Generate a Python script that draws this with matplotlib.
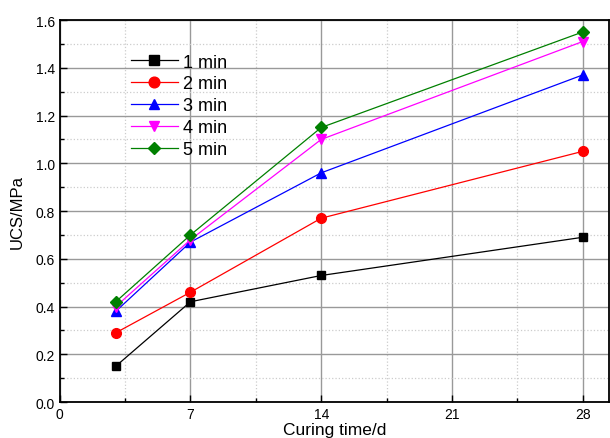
import numpy as np
import matplotlib.pyplot as plt
from matplotlib.ticker import MultipleLocator

plt.rcParams['font.family'] = ['Liberation Sans', 'DejaVu Sans']

days = [3, 7, 14, 28]
ucs_1min = [0.15, 0.42, 0.53, 0.69]
ucs_2min = [0.29, 0.46, 0.77, 1.05]
ucs_3min = [0.38, 0.67, 0.96, 1.37]
ucs_4min = [0.40, 0.68, 1.10, 1.51]
ucs_5min = [0.42, 0.70, 1.15, 1.55]
labels = ['1 min', '2 min', '3 min', '4 min', '5 min']

series = [ucs_1min, ucs_2min, ucs_3min, ucs_4min, ucs_5min]
colors = ['black', 'red', 'blue', 'magenta', 'green']
markers = ['s', 'o', '^', 'v', 'D']
sizes = [6, 7, 7, 7, 6]

fig = plt.figure(figsize=(6.1, 4.39), dpi=100)
ax = fig.add_axes([0.098, 0.082, 0.9, 0.870])

for vals, lab, c, m, s in zip(series, labels, colors, markers, sizes):
    ax.plot(days, vals, color=c, marker=m, markersize=s, linewidth=0.9, label=lab)

ax.set_xlim(0, 29.4)
ax.set_ylim(0, 1.6)
ax.xaxis.set_major_locator(MultipleLocator(7))
ax.xaxis.set_minor_locator(MultipleLocator(3.5))
ax.yaxis.set_major_locator(MultipleLocator(0.2))
ax.yaxis.set_minor_locator(MultipleLocator(0.1))
ax.yaxis.set_major_formatter(plt.FuncFormatter(lambda v, p: '%.1f' % v))

ax.grid(True, which='major', color='#999999', linewidth=1.0)
ax.grid(True, which='minor', color='#cccccc', linestyle=':', linewidth=0.9)
ax.set_axisbelow(True)

ax.tick_params(which='both', direction='in', labelsize=10, top=False, right=False)
ax.tick_params(which='major', length=5, width=1)
ax.tick_params(which='minor', length=3, width=1)
for sp in ax.spines.values():
    sp.set_linewidth(1.3)

ax.set_xlabel('Curing time/d', fontsize=12.5, labelpad=1)
ax.set_ylabel('UCS/MPa', fontsize=12, labelpad=8)

ax.legend(loc='upper left', bbox_to_anchor=(0.10, 0.955), frameon=False, fontsize=13,
          handlelength=2.6, labelspacing=0.27, handletextpad=0.3, markerscale=1.1)

fig.savefig('out.png', dpi=100)
